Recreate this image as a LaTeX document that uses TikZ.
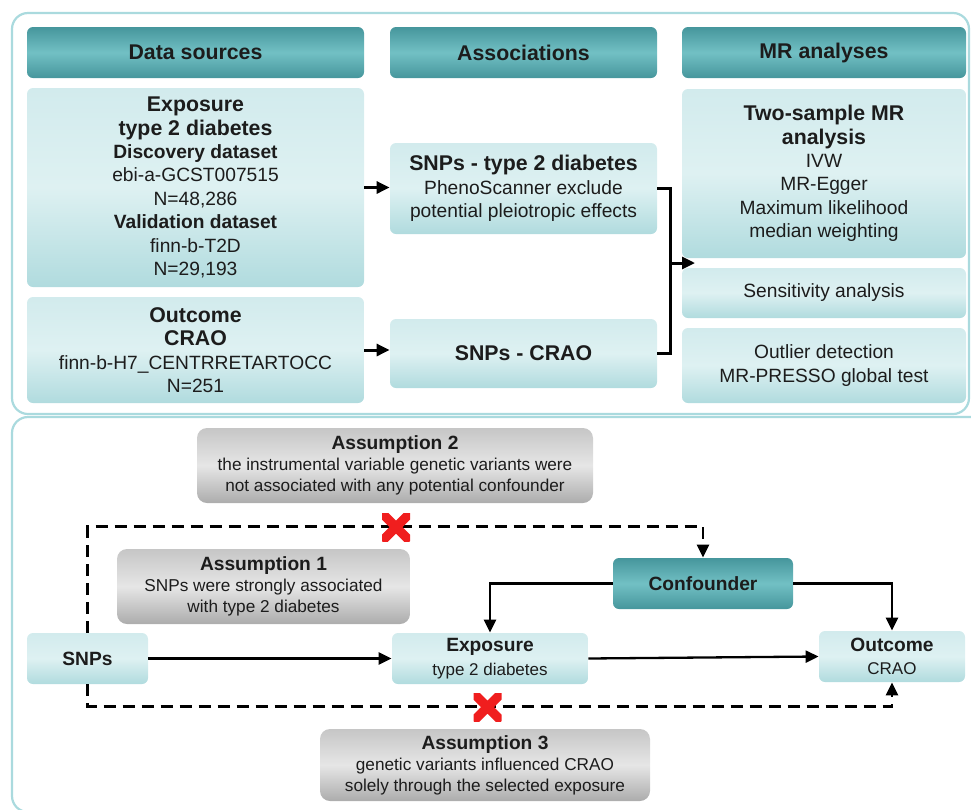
\documentclass[tikz,border=0pt]{standalone}
\usepackage{fontspec}
\setmainfont{Liberation Sans}
\usepackage{tikz}
\usetikzlibrary{arrows.meta,positioning}
\definecolor{inkdark}{RGB}{28,28,28}
\definecolor{panelcyan}{RGB}{170,218,222}
\definecolor{hdedge}{RGB}{70,150,156}
\definecolor{hdmid}{RGB}{114,192,196}
\definecolor{lbtop}{RGB}{210,235,237}
\definecolor{lbmid}{RGB}{222,241,242}
\definecolor{lbbot}{RGB}{176,219,222}
\definecolor{gytop}{RGB}{198,198,198}
\definecolor{gymid}{RGB}{230,230,230}
\definecolor{gybot}{RGB}{172,172,172}
\definecolor{xred}{RGB}{240,30,30}
\newcommand{\bighd}{\fontsize{10.65}{12.5}\selectfont\bfseries}
\newcommand{\smtxt}{\fontsize{8.5}{10.5}\selectfont}
\tikzset{
  panel/.style ={draw=panelcyan, line width=1.1pt, rounded corners=8pt},
  hdbox/.style ={rectangle, rounded corners=3pt, top color=hdedge, bottom color=hdedge,
                 middle color=hdmid, text=inkdark, align=center, inner sep=2pt,
                 font=\fontsize{10.65}{12.5}\selectfont\bfseries},
  box/.style   ={rectangle, rounded corners=3pt, top color=lbtop, bottom color=lbbot,
                 middle color=lbmid, text=inkdark, align=center, inner sep=2pt,
                 font=\fontsize{9.6}{11.7}\selectfont},
  gbox/.style  ={rectangle, rounded corners=5pt, top color=gytop, bottom color=gybot,
                 middle color=gymid, text=inkdark, align=center, inner sep=2pt,
                 font=\fontsize{8.6}{10.5}\selectfont},
  flow/.style  ={-{Triangle[length=6.5pt,width=6pt]}, line width=1.15pt, draw=black},
  flowt/.style ={-{Triangle[length=6.5pt,width=6pt]}, line width=1.5pt, draw=black},
  flowd/.style ={-{Triangle[length=6.5pt,width=6pt]}, line width=1.15pt, draw=black,
                 dash pattern=on 6pt off 3.5pt},
  redx/.style  ={minimum size=14pt, inner sep=0pt,
                 path picture={\draw[line width=4.6pt, xred]
                   (path picture bounding box.north west) -- (path picture bounding box.south east)
                   (path picture bounding box.north east) -- (path picture bounding box.south west);}}
}
\begin{document}
\begin{tikzpicture}[x=0.5pt, y=-0.5pt]
\clip (0,0) rectangle (971,810);
\draw[panel] (12,13) rectangle (969,414);
\draw[panel] (12,417) rectangle (990,812);
% column heads
\node[hdbox, minimum width=168.5pt, minimum height=25.5pt] (hds) at (195.5,52.5) {Data sources};
\node[hdbox, minimum width=133.5pt, minimum height=25.5pt] (hda) at (523.5,52.5) {Associations};
\node[hdbox, minimum width=142pt, minimum height=25.5pt] (hdm) at (824,52.5) {MR analyses};
% data sources
\node[box, minimum width=168.5pt, minimum height=99.5pt] (expo) at (195.5,187.5)
  {{\bighd Exposure}\\{\bighd type 2 diabetes}\\\textbf{Discovery dataset}\\ebi-a-GCST007515\\N=48,286\\
   \textbf{Validation dataset}\\finn-b-T2D\\N=29,193};
\node[box, minimum width=168.5pt, minimum height=53pt] (outc) at (195.5,350)
  {{\bighd Outcome}\\{\bighd CRAO}\\finn-b-H7\_CENTRRETARTOCC\\N=251};
% associations
\node[box, minimum width=133.5pt, minimum height=45.5pt] (snpt) at (523.5,188.5)
  {{\bighd SNPs - type 2 diabetes}\\PhenoScanner exclude\\potential pleiotropic effects};
\node[box, minimum width=133.5pt, minimum height=34.5pt] (snpc) at (523.5,353.5)
  {\bighd SNPs - CRAO};
% MR analyses
\node[box, minimum width=142pt, minimum height=84.5pt] (twos) at (824,173.5)
  {{\bighd Two-sample MR}\\{\bighd analysis}\\IVW\\MR-Egger\\Maximum likelihood\\median weighting};
\node[box, minimum width=142pt, minimum height=25pt] (sens) at (824,293) {Sensitivity analysis};
\node[box, minimum width=142pt, minimum height=37.5pt] (outl) at (824,365.5)
  {Outlier detection\\MR-PRESSO global test};
\coordinate (brk) at (670,263);
\coordinate (mrin) at (695,263);
\draw[flowt] (expo.east) -- (expo.east -| snpt.west);
\draw[flowt] (outc.east) -- (outc.east -| snpc.west);
\draw[line width=1.5pt] (snpt.east) -| (brk) |- (snpc.east);
\draw[flowt] (brk) -- (mrin);
% assumptions
\node[gbox, minimum width=198pt, minimum height=37.5pt] (asm2) at (395,465.5)
  {\textbf{\fontsize{9.6}{10.5}\selectfont Assumption 2}\\the instrumental variable genetic variants were\\
   not associated with any potential confounder};
\node[gbox, minimum width=146.5pt, minimum height=37.5pt] (asm1) at (263.5,586.5)
  {\textbf{\fontsize{9.6}{10.5}\selectfont Assumption 1}\\SNPs were strongly associated\\with type 2 diabetes};
\node[gbox, minimum width=165pt, minimum height=36pt] (asm3) at (485,765)
  {\textbf{\fontsize{9.6}{10.5}\selectfont Assumption 3}\\genetic variants influenced CRAO\\
   solely through the selected exposure};
% causal graph
\node[box, minimum width=60.5pt, minimum height=25.5pt, font=\fontsize{9.6}{11}\selectfont\bfseries] (snps) at (87.5,658.5) {SNPs};
\node[box, minimum width=98pt, minimum height=25.5pt] (expb) at (490,658.5)
  {\textbf{Exposure}\\\smtxt type 2 diabetes};
\node[box, minimum width=73pt, minimum height=25.5pt] (outb) at (892,656.5)
  {\textbf{Outcome}\\\smtxt CRAO};
\node[hdbox, minimum width=90pt, minimum height=25.5pt, font=\fontsize{9.6}{11}\selectfont\bfseries] (conf) at (703,583.5) {Confounder};
\draw[flow] (snps) -- (expb);
\draw[flow] (expb.east) -- (outb.west);
\draw[flow] (conf.west) -| (expb.north);
\draw[flow] (conf.east) -| (outb.north);
\draw[flowd] (snps.north) -- ++(0,-106) -| (conf.north);
\draw[flowd] (snps.south) -- ++(0,22) -| (outb.south);
\node[redx] (xa) at (396,527) {};
\node[redx] (xb) at (487.5,707) {};
\end{tikzpicture}
\end{document}
